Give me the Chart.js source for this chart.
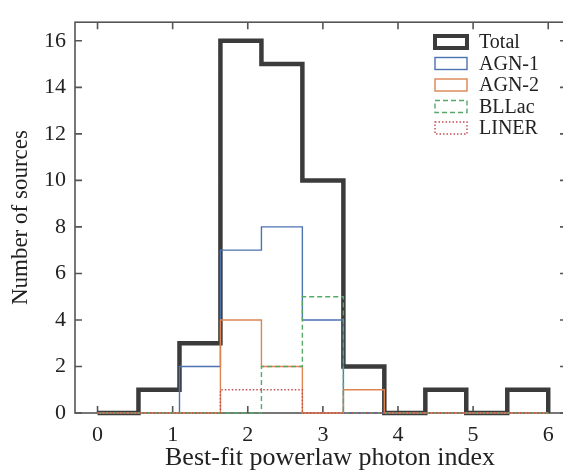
<!DOCTYPE html>
<html>
<head>
<meta charset="utf-8">
<script src="https://cdn.jsdelivr.net/npm/chart.js@4.4.1/dist/chart.umd.min.js"></script>
<style>
  html, body { margin: 0; padding: 0; background: #fff; overflow: hidden; }
  #wrap { width: 563px; height: 475px; overflow: hidden; }
  #wrap canvas { display: block; }
</style>
</head>
<body>
<div id="wrap"><canvas id="histChart" width="575" height="475"></canvas></div>
<script>
// Histogram bin edges (11 equal bins between 0 and 6)
const binEdges = [0, 0.545, 1.091, 1.636, 2.182, 2.727, 3.273, 3.818, 4.364, 4.909, 5.455, 6.0];

// Counts per bin
const totalCounts = [0, 1, 3, 16, 15, 10, 2, 0, 1, 0, 1];
const agn1Counts  = [0, 0, 2, 7, 8, 4, 0, 0, 0, 0, 0];
const agn2Counts  = [0, 0, 0, 4, 2, 0, 1, 0, 0, 0, 0];
const bllacCounts = [0, 0, 0, 0, 2, 5, 0, 0, 0, 0, 0];
const linerCounts = [0, 0, 0, 1, 1, 0, 0, 0, 0, 0, 0];

const seriesLabels = ['Total', 'AGN-1', 'AGN-2', 'BLLac', 'LINER'];
const xTicks = [0, 1, 2, 3, 4, 5, 6];
const yTicks = [0, 2, 4, 6, 8, 10, 12, 14, 16];
const xTitle = 'Best-fit powerlaw photon index';
const yTitle = 'Number of sources';

const FONT = '"Liberation Serif", "DejaVu Serif", serif';

// bin counts -> step outline points (horizontal first, then vertical)
function stepPoints(counts) {
    const pts = [{ x: binEdges[0], y: 0 }];
    counts.forEach((c, i) => pts.push({ x: binEdges[i + 1], y: c }));
    pts.push({ x: binEdges[binEdges.length - 1], y: 0 });
    return pts;
}

function makeSet(label, counts, color, width, dash, order) {
    return {
        label: label,
        data: stepPoints(counts),
        stepped: 'after',
        borderColor: color,
        borderWidth: width,
        borderDash: dash,
        pointRadius: 0,
        fill: false,
        order: order,
        clip: 8
    };
}

const datasets = [
    makeSet(seriesLabels[0], totalCounts, '#3b3b3b', 4.5, [], 5),
    makeSet(seriesLabels[1], agn1Counts, '#4c72b0', 1.4, [], 4),
    makeSet(seriesLabels[2], agn2Counts, '#dd8452', 1.4, [], 3),
    makeSet(seriesLabels[3], bllacCounts, '#55a868', 1.4, [5, 3], 2),
    makeSet(seriesLabels[4], linerCounts, '#c44e52', 1.4, [1.5, 2], 1)
];

// frame + inward ticks on all four sides
const framePlugin = {
    id: 'frame',
    beforeDatasetsDraw(chart) {
        const { ctx, chartArea: a, scales } = chart;
        const len = 7;
        ctx.save();
        ctx.strokeStyle = '#555';
        ctx.lineWidth = 1.6;
        ctx.strokeRect(a.left, a.top, a.right - a.left, a.bottom - a.top);
        ctx.beginPath();
        xTicks.forEach(v => {
            const px = scales.x.getPixelForValue(v);
            ctx.moveTo(px, a.bottom); ctx.lineTo(px, a.bottom - len);
            ctx.moveTo(px, a.top); ctx.lineTo(px, a.top + len);
        });
        yTicks.forEach(v => {
            const py = scales.y.getPixelForValue(v);
            ctx.moveTo(a.left, py); ctx.lineTo(a.left + len, py);
            ctx.moveTo(a.right, py); ctx.lineTo(a.right - len, py);
        });
        ctx.stroke();
        ctx.restore();
    },
    afterDraw(chart) {
        // x axis title, centred like the original figure
        const { ctx } = chart;
        ctx.save();
        ctx.fillStyle = '#222';
        ctx.font = '26px ' + FONT;
        ctx.textAlign = 'center';
        ctx.textBaseline = 'alphabetic';
        ctx.fillText(xTitle, 330, 465);
        ctx.restore();
    }
};

// legend drawn inside the plot area, top right
const boxLegend = {
    id: 'boxLegend',
    afterDraw(chart) {
        const { ctx } = chart;
        const x0 = 435, y0 = 36, rowH = 21.5, bw = 32, bh = 12;
        ctx.save();
        chart.data.datasets.forEach((ds, i) => {
            const y = y0 + i * rowH;
            ctx.strokeStyle = ds.borderColor;
            ctx.lineWidth = i === 0 ? 4 : 1.4;
            ctx.setLineDash(ds.borderDash || []);
            ctx.strokeRect(x0, y, bw, bh);
            ctx.setLineDash([]);
            ctx.fillStyle = '#222';
            ctx.font = '20px ' + FONT;
            ctx.textBaseline = 'middle';
            ctx.fillText(ds.label, x0 + 44, y + bh / 2 + 1);
        });
        ctx.restore();
    }
};

new Chart(document.getElementById('histChart'), {
    type: 'line',
    data: { datasets: datasets },
    options: {
        responsive: false,
        animation: false,
        layout: { padding: { left: 0, top: 9, right: 8, bottom: 0 } },
        plugins: { legend: { display: false }, tooltip: { enabled: false } },
        scales: {
            x: {
                type: 'linear',
                min: -0.3,
                max: 6.25,
                grid: { display: false, drawTicks: false },
                border: { display: false },
                afterBuildTicks: (s) => { s.ticks = xTicks.map(v => ({ value: v })); },
                afterFit: (s) => { s.height = 62; },
                ticks: { color: '#222', padding: 9, maxRotation: 0, font: { family: FONT, size: 22 } }
            },
            y: {
                min: 0,
                max: 16.8,
                grid: { display: false, drawTicks: false },
                border: { display: false },
                afterBuildTicks: (s) => { s.ticks = yTicks.map(v => ({ value: v })); },
                afterFit: (s) => { s.width = 75; },
                ticks: { color: '#222', padding: 9, font: { family: FONT, size: 22 } },
                title: {
                    display: true,
                    text: yTitle,
                    color: '#222',
                    padding: { top: 7, bottom: 0 },
                    font: { family: FONT, size: 23 }
                }
            }
        }
    },
    plugins: [framePlugin, boxLegend]
});
</script>
</body>
</html>
